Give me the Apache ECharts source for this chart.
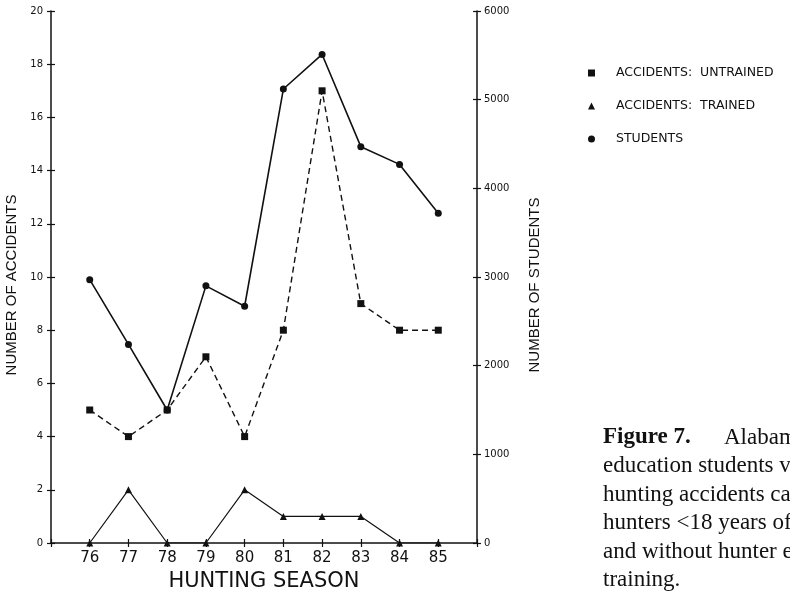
<!DOCTYPE html>
<html><head><meta charset="utf-8">
<script src="https://cdn.jsdelivr.net/npm/echarts@6/dist/echarts.min.js"></script>
<style>html,body{margin:0;padding:0;background:#fff}#c{width:790px;height:594px}</style>
</head><body><div id="c"></div>
<script>
// ---- data ----
const seasons = [76, 77, 78, 79, 80, 81, 82, 83, 84, 85];
const untrained = [5, 4, 5, 7, 4, 8, 17, 9, 8, 8];
const trained = [0, 2, 0, 0, 2, 1, 1, 1, 0, 0];
const students = [2970, 2240, 1500, 2900, 2670, 5120, 5510, 4470, 4270, 3720];
const accidentTicks = [0, 2, 4, 6, 8, 10, 12, 14, 16, 18, 20];
const studentTicks = [0, 1000, 2000, 3000, 4000, 5000, 6000];
const seriesNames = ['ACCIDENTS:  UNTRAINED', 'ACCIDENTS:  TRAINED', 'STUDENTS'];
const captionLines = [
  'education students vs.',
  'hunting accidents caused by',
  'hunters <18 years of age with',
  'and without hunter education',
  'training.'
];

const ink = '#111';
const pairs = arr => seasons.map((s, i) => [s, arr[i]]);

const axisLineStyle = { lineStyle: { color: ink, width: 1.5 } };
const xBase = { type: 'value', min: seasons[0] - 1, max: seasons[seasons.length - 1] + 1, interval: 1 };
const yLeftBase = { type: 'value', min: accidentTicks[0], max: accidentTicks[accidentTicks.length - 1], interval: accidentTicks[1] - accidentTicks[0] };
const yRightBase = { type: 'value', min: studentTicks[0], max: studentTicks[studentTicks.length - 1], interval: studentTicks[1] - studentTicks[0] };

const chart = echarts.init(document.getElementById('c'), null, { renderer: 'canvas' });
chart.setOption({
  backgroundColor: '#fff',
  animation: false,
  grid: { left: 51, right: 313, top: 11, bottom: 51, containLabel: false, outerBoundsMode: 'none' },
  legend: {
    orient: 'vertical', left: 583, top: 61, itemWidth: 7, itemHeight: 7, itemGap: 19,
    textStyle: { fontFamily: 'DejaVu Sans', fontSize: 12.5, color: ink, padding: [0, 0, 0, 16], lineHeight: 14 },
    data: [
      { name: seriesNames[0], icon: 'rect' },
      { name: seriesNames[1], icon: 'triangle' },
      { name: seriesNames[2], icon: 'circle' }
    ]
  },
  xAxis: [
    Object.assign({}, xBase, {
      position: 'bottom',
      name: 'HUNTING SEASON', nameLocation: 'middle', nameGap: 27,
      nameTextStyle: { fontFamily: 'DejaVu Sans', fontSize: 21, color: ink },
      axisLine: axisLineStyle,
      axisTick: { show: true, length: 4, lineStyle: { color: ink, width: 1.2 } },
      axisLabel: {
        margin: 8, fontFamily: 'DejaVu Sans', fontSize: 15, color: ink,
        formatter: v => (seasons.indexOf(v) >= 0 ? String(v) : '')
      },
      splitLine: { show: false }
    }),
    Object.assign({}, xBase, {
      position: 'bottom', offset: 0,
      axisLine: { show: false },
      axisTick: { show: true, inside: true, length: 4, lineStyle: { color: ink, width: 1.2 } },
      axisLabel: { show: false }, splitLine: { show: false }
    })
  ],
  yAxis: [
    Object.assign({}, yLeftBase, {
      position: 'left',
      name: 'NUMBER OF ACCIDENTS', nameLocation: 'middle', nameGap: 32, nameRotate: 90,
      nameTextStyle: { fontFamily: 'Liberation Sans', fontSize: 15, color: ink, padding: [0, 16, 0, 0] },
      axisLine: { show: true, lineStyle: { color: ink, width: 1.5 } },
      axisTick: { show: true, length: 4, lineStyle: { color: ink, width: 1.2 } },
      axisLabel: { margin: 8, fontFamily: 'DejaVu Sans', fontSize: 10, color: ink },
      splitLine: { show: false }
    }),
    Object.assign({}, yRightBase, {
      position: 'right',
      name: 'NUMBER OF STUDENTS', nameLocation: 'middle', nameGap: 50, nameRotate: 90,
      nameTextStyle: { fontFamily: 'Liberation Sans', fontSize: 15, color: ink, padding: [0, 16, 0, 0] },
      axisLine: { show: true, lineStyle: { color: ink, width: 1.5 } },
      axisTick: { show: true, length: 4, lineStyle: { color: ink, width: 1.2 } },
      axisLabel: { margin: 7, fontFamily: 'DejaVu Sans', fontSize: 10, color: ink, formatter: v => String(v) },
      splitLine: { show: false }
    }),
    Object.assign({}, yLeftBase, {
      position: 'left', offset: 0,
      axisLine: { show: false },
      axisTick: { show: true, inside: true, length: 4, lineStyle: { color: ink, width: 1.2 } },
      axisLabel: { show: false }, splitLine: { show: false }
    }),
    Object.assign({}, yRightBase, {
      position: 'right', offset: 0,
      axisLine: { show: false },
      axisTick: { show: true, inside: true, length: 4, lineStyle: { color: ink, width: 1.2 } },
      axisLabel: { show: false }, splitLine: { show: false }
    })
  ],
  series: [
    {
      name: seriesNames[0], type: 'line', xAxisIndex: 0, yAxisIndex: 0,
      data: pairs(untrained), symbol: 'rect', symbolSize: 7,
      lineStyle: { color: ink, width: 1.4, type: [6, 4] },
      itemStyle: { color: ink }
    },
    {
      name: seriesNames[1], type: 'line', xAxisIndex: 0, yAxisIndex: 0,
      data: pairs(trained), symbol: 'triangle', symbolSize: 7,
      lineStyle: { color: ink, width: 1.2 },
      itemStyle: { color: ink }
    },
    {
      name: seriesNames[2], type: 'line', xAxisIndex: 0, yAxisIndex: 1,
      data: pairs(students), symbol: 'circle', symbolSize: 7,
      lineStyle: { color: ink, width: 1.6 },
      itemStyle: { color: ink }
    }
  ],
  graphic: [
    { type: 'text', left: 603, top: 426, style: { text: 'Figure 7.', font: 'bold 23px "Liberation Serif"', fill: ink } },
    { type: 'text', left: 724, top: 426, style: { text: 'Alabama hunter', font: '23px "Liberation Serif"', fill: ink } }
  ].concat(captionLines.map((t, i) => ({
    type: 'text', left: 603, top: 426 + 28.5 * (i + 1),
    style: { text: t, font: '23px "Liberation Serif"', fill: ink }
  })))
});
</script>
</body></html>
